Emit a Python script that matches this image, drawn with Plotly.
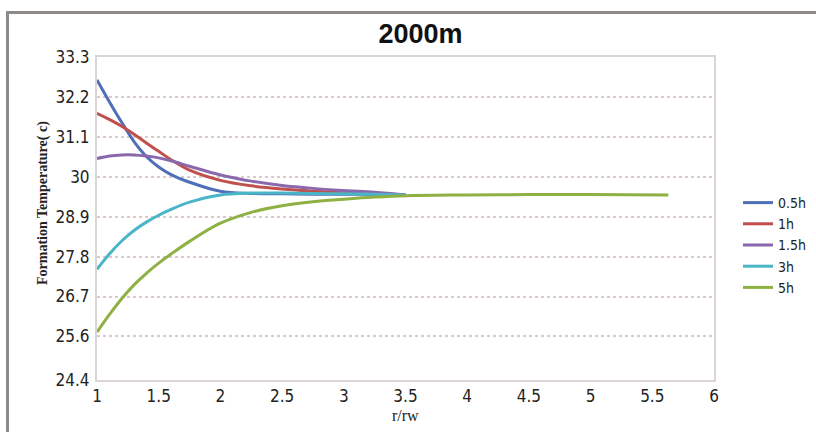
import plotly.graph_objects as go

# ---- data ----
x_short = [1, 1.1, 1.2, 1.3, 1.4, 1.5, 1.6, 1.75, 2, 2.25, 2.5, 2.75, 3, 3.25, 3.5]
t_05h = [32.67, 32.07, 31.5, 30.97, 30.56, 30.27, 30.06, 29.85, 29.6, 29.54, 29.53, 29.52, 29.52, 29.51, 29.5]
t_1h = [31.75, 31.58, 31.39, 31.17, 30.93, 30.7, 30.47, 30.18, 29.9, 29.75, 29.66, 29.6, 29.56, 29.53, 29.5]
t_15h = [30.5, 30.57, 30.6, 30.6, 30.57, 30.52, 30.44, 30.29, 30.05, 29.88, 29.76, 29.68, 29.62, 29.57, 29.5]
t_3h = [27.45, 27.87, 28.23, 28.52, 28.75, 28.94, 29.1, 29.3, 29.5, 29.55, 29.55, 29.54, 29.53, 29.52, 29.5]
x_long = [1, 1.1, 1.2, 1.3, 1.4, 1.5, 1.6, 1.75, 2, 2.25, 2.5, 2.75, 3, 3.25, 3.5, 4, 4.5, 5, 5.63]
t_5h = [25.72, 26.2, 26.64, 27.02, 27.34, 27.62, 27.87, 28.22, 28.72, 29.02, 29.2, 29.31, 29.38, 29.44, 29.48, 29.5, 29.51, 29.51, 29.5]

series_names = ["0.5h", "1h", "1.5h", "3h", "5h"]
series_colors = ["#4f6fb8", "#c0504d", "#8a68ad", "#4bb5c8", "#8fb043"]

y_ticks = [24.4, 25.6, 26.7, 27.8, 28.9, 30, 31.1, 32.2, 33.3]
x_ticks = [1, 1.5, 2, 2.5, 3, 3.5, 4, 4.5, 5, 5.5, 6]

# ---- figure ----
W, H = 816, 432
L, R, T, B = 97, 714, 57, 380

fig = go.Figure()
data = [(x_short, t_05h), (x_short, t_1h), (x_short, t_15h), (x_short, t_3h), (x_long, t_5h)]
for (xs, ys), name, col in zip(data, series_names, series_colors):
    fig.add_trace(go.Scatter(x=xs, y=ys, mode="lines", name=name,
                             line=dict(color=col, width=3, shape="spline", smoothing=1.0)))

narrow = "DejaVu Sans Condensed, Liberation Sans Narrow, Arial Narrow, Liberation Sans, Arial, sans-serif"
bold_narrow = "Liberation Sans Narrow, Arial Narrow, Liberation Sans, Arial, sans-serif"
serif = "Liberation Serif, Times New Roman, serif"

def px_x(p):
    return (p - L) / (R - L)

def px_y(p):
    return 1 - (p - T) / (B - T)

fig.update_layout(
    width=W, height=H,
    margin=dict(l=L, r=W - R, t=T, b=H - B, autoexpand=False),
    paper_bgcolor="white", plot_bgcolor="white",
    title=dict(text="<b>2000m</b>", x=420.5 / W, xanchor="center", y=1 - 34 / H, yanchor="middle",
               font=dict(family=bold_narrow, size=27, color="#111111")),
    legend=dict(x=px_x(738), xanchor="left", y=px_y(187), yanchor="top",
                font=dict(family=narrow, size=14, color="#222222"),
                bgcolor="rgba(0,0,0,0)", itemwidth=30, tracegroupgap=0),
    showlegend=True,
)

fig.update_xaxes(range=[1, 6], tickvals=x_ticks, ticktext=[f"{v:g}" for v in x_ticks],
                 showgrid=False, zeroline=False, showline=True, mirror=True, automargin=False,
                 linecolor="#dcd5d5", linewidth=2, ticks="", ticklabelstandoff=0,
                 tickfont=dict(family=narrow, size=17, color="#222222"))
fig.update_yaxes(range=[24.4, 33.3], tickvals=y_ticks, ticktext=[f"{v:g}" for v in y_ticks],
                 showgrid=True, gridcolor="#dacaca", griddash="dot", gridwidth=2,
                 zeroline=False, showline=True, mirror=True, automargin=False,
                 linecolor="#dcd5d5", linewidth=2, ticks="", ticklabelstandoff=2,
                 tickfont=dict(family=narrow, size=17, color="#222222"))

# axis titles placed as annotations to match the original positions
fig.add_annotation(text="r/rw", xref="paper", yref="paper", x=px_x(405), y=px_y(415),
                   xanchor="center", yanchor="middle", showarrow=False,
                   font=dict(family=serif, size=16, color="#222222"))
fig.add_annotation(text="<b>Formation Temperature( c)</b>", xref="paper", yref="paper",
                   x=px_x(43), y=px_y(203), xanchor="center", yanchor="middle",
                   textangle=-90, showarrow=False,
                   font=dict(family=serif, size=14, color="#222222"))

# outer frame (scanned figure border)
fig.add_shape(type="line", xref="paper", yref="paper",
              x0=px_x(7), x1=px_x(W + 10), y0=px_y(12.5), y1=px_y(12.5),
              line=dict(color="#8e8a87", width=3))
fig.add_shape(type="line", xref="paper", yref="paper",
              x0=px_x(7.5), x1=px_x(7.5), y0=px_y(11), y1=px_y(H + 10),
              line=dict(color="#8e8a87", width=3))

fig.write_html("out.html", config={"displayModeBar": False},
               post_script="document.body.style.margin='0';")
